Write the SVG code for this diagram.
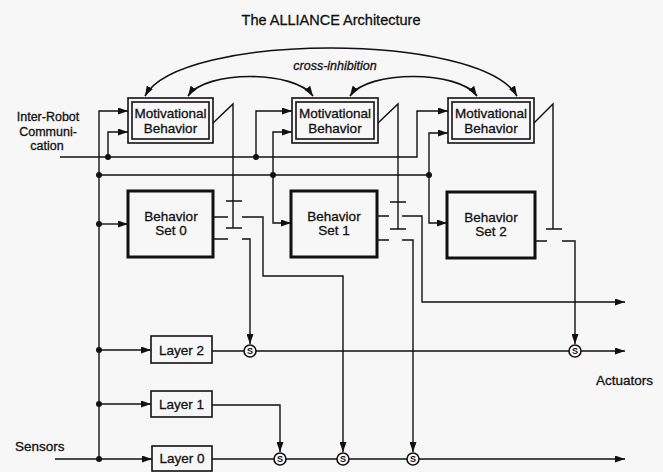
<svg xmlns="http://www.w3.org/2000/svg" width="663" height="472" viewBox="0 0 663 472">
<style>
text{font-family:"Liberation Sans",Arial,Helvetica,sans-serif;fill:#111;stroke:#111;stroke-width:0.3;}
.t{font-size:13.5px;text-anchor:middle;}
.c{font-size:12.5px;text-anchor:middle;}
.lbl{font-size:13.5px;}
.ln{fill:none;stroke:#111;stroke-width:1.4;}
.ar{fill:none;stroke:#111;stroke-width:1.4;marker-end:url(#ah);}
.arc{fill:none;stroke:#111;stroke-width:1.6;marker-start:url(#ah);marker-end:url(#ah);}
.mbo{fill:none;stroke:#111;stroke-width:1.6;}
.bs{fill:none;stroke:#111;stroke-width:3;}
.ly{fill:none;stroke:#111;stroke-width:1.6;}
.dot{fill:#111;}
.sc{fill:#f7f7f7;stroke:#111;stroke-width:1.6;}
.st{font-size:9px;font-weight:bold;text-anchor:middle;stroke-width:0;}
</style>
<defs>
<marker id="ah" viewBox="0 0 10 7" refX="10" refY="3.5" markerWidth="10" markerHeight="7" markerUnits="userSpaceOnUse" orient="auto-start-reverse">
<path d="M0,0 L10,3.5 L0,7 z" fill="#111"/>
</marker>
</defs>
<rect x="0" y="0" width="663" height="472" fill="#f7f7f7"/>
<g id="title"><text x="331" y="25" style="font-size:14.5px;text-anchor:middle">The ALLIANCE Architecture</text></g>
<g id="label-comm">
<text class="c" x="48" y="121">Inter-Robot</text>
<text class="c" x="48" y="135.5">Communi-</text>
<text class="c" x="47" y="150">cation</text>
</g>
<g id="label-sensors"><text class="lbl" x="15" y="451">Sensors</text></g>
<g id="label-actuators"><text class="lbl" x="596" y="385">Actuators</text></g>
<g id="label-cross"><text x="335" y="70" style="font-size:12.5px;font-style:italic;text-anchor:middle">cross-inhibition</text></g>

<g id="connectors">
<!-- cross inhibition arcs -->
<path class="arc" d="M145,96 C180,32 480,32 517,96"/>
<path class="arc" d="M188,96 C205,70 295,70 313,96"/>
<path class="arc" d="M350,96 C367,70 459,70 477,96"/>
<!-- communication line -->
<path class="ar" d="M60,157 H417 V111 H448"/>
<path class="ar" d="M108,157 V132 H128"/>
<path class="ar" d="M256,157 V111 H292"/>
<!-- sensor bus -->
<path class="ar" d="M99,459 V111 H128"/>
<path class="ln" d="M99,175 H429"/>
<path class="ar" d="M273,175 V132 H292"/>
<path class="ar" d="M273,175 V223 H291"/>
<path class="ar" d="M429,175 V133 H448"/>
<path class="ar" d="M429,175 V223 H447"/>
<path class="ar" d="M99,224 H128"/>
<path class="ar" d="M99,350 H151"/>
<path class="ar" d="M99,404 H151"/>
<path class="ar" d="M55,459 H152"/>
<!-- activation ramps -->
<path class="ln" d="M213,123 L233,104 V228"/>
<path class="ln" d="M378,123 L398,104 V229"/>
<path class="ln" d="M534,123 L553,104 V229"/>
<path class="ln" d="M226,201 H242 M226,228 H242 M390,202 H406 M390,229 H406 M546,229 H562"/>
<!-- behavior set outputs -->
<path class="ln" d="M213,217 H228 M213,239 H228 M377,216 H389 M377,240 H389 M535,241 H547"/>
<path class="ar" d="M242,217 H263 V276 H343 V452"/>
<path class="ar" d="M242,239 H250 V344"/>
<path class="ar" d="M402,216 H422 V302 H625"/>
<path class="ar" d="M402,240 H413 V452"/>
<path class="ar" d="M562,241 H575 V344"/>
<!-- layer outputs -->
<path class="ar" d="M212,351 H625"/>
<path class="ar" d="M212,405 H280 V452"/>
<path class="ar" d="M212,459 H625"/>
<!-- junction dots -->
<circle class="dot" cx="108" cy="157" r="3"/>
<circle class="dot" cx="256" cy="157" r="3"/>
<circle class="dot" cx="99" cy="175" r="3"/>
<circle class="dot" cx="273" cy="175" r="3"/>
<circle class="dot" cx="429" cy="175" r="3"/>
<circle class="dot" cx="99" cy="224" r="3"/>
<circle class="dot" cx="99" cy="350" r="3"/>
<circle class="dot" cx="99" cy="404" r="3"/>
<circle class="dot" cx="99" cy="459" r="3"/>
</g>

<g id="mb0">
<rect class="mbo" x="128" y="98" width="85" height="45"/>
<rect class="mbo" x="132" y="102" width="77" height="37"/>
<text class="t" x="170.5" y="118">Motivational</text>
<text class="t" x="170.5" y="133">Behavior</text>
</g>
<g id="mb1">
<rect class="mbo" x="292" y="98" width="86" height="45"/>
<rect class="mbo" x="296" y="102" width="78" height="37"/>
<text class="t" x="335" y="118">Motivational</text>
<text class="t" x="335" y="133">Behavior</text>
</g>
<g id="mb2">
<rect class="mbo" x="448" y="98" width="86" height="45"/>
<rect class="mbo" x="452" y="102" width="78" height="37"/>
<text class="t" x="491" y="118">Motivational</text>
<text class="t" x="491" y="133">Behavior</text>
</g>

<g id="bs0">
<rect class="bs" x="128" y="191" width="85" height="66"/>
<text class="t" x="171" y="221">Behavior</text>
<text class="t" x="171" y="235">Set 0</text>
</g>
<g id="bs1">
<rect class="bs" x="291" y="191" width="86" height="66"/>
<text class="t" x="334" y="221">Behavior</text>
<text class="t" x="334" y="235">Set 1</text>
</g>
<g id="bs2">
<rect class="bs" x="447" y="192" width="88" height="66"/>
<text class="t" x="491" y="222">Behavior</text>
<text class="t" x="491" y="236">Set 2</text>
</g>

<g id="layer2">
<rect class="ly" x="151" y="336" width="61" height="27"/>
<text class="t" x="181.5" y="355">Layer 2</text>
</g>
<g id="layer1">
<rect class="ly" x="151" y="391" width="61" height="26"/>
<text class="t" x="181.5" y="409">Layer 1</text>
</g>
<g id="layer0">
<rect class="ly" x="152" y="446" width="60" height="25"/>
<text class="t" x="182" y="463">Layer 0</text>
</g>

<g id="s-l2a"><circle class="sc" cx="250" cy="351" r="6"/><text class="st" x="250" y="354.3">S</text></g>
<g id="s-l2b"><circle class="sc" cx="575" cy="351" r="6"/><text class="st" x="575" y="354.3">S</text></g>
<g id="s-l0a"><circle class="sc" cx="280" cy="459" r="6"/><text class="st" x="280" y="462.3">S</text></g>
<g id="s-l0b"><circle class="sc" cx="343" cy="459" r="6"/><text class="st" x="343" y="462.3">S</text></g>
<g id="s-l0c"><circle class="sc" cx="413" cy="459" r="6"/><text class="st" x="413" y="462.3">S</text></g>
</svg>
